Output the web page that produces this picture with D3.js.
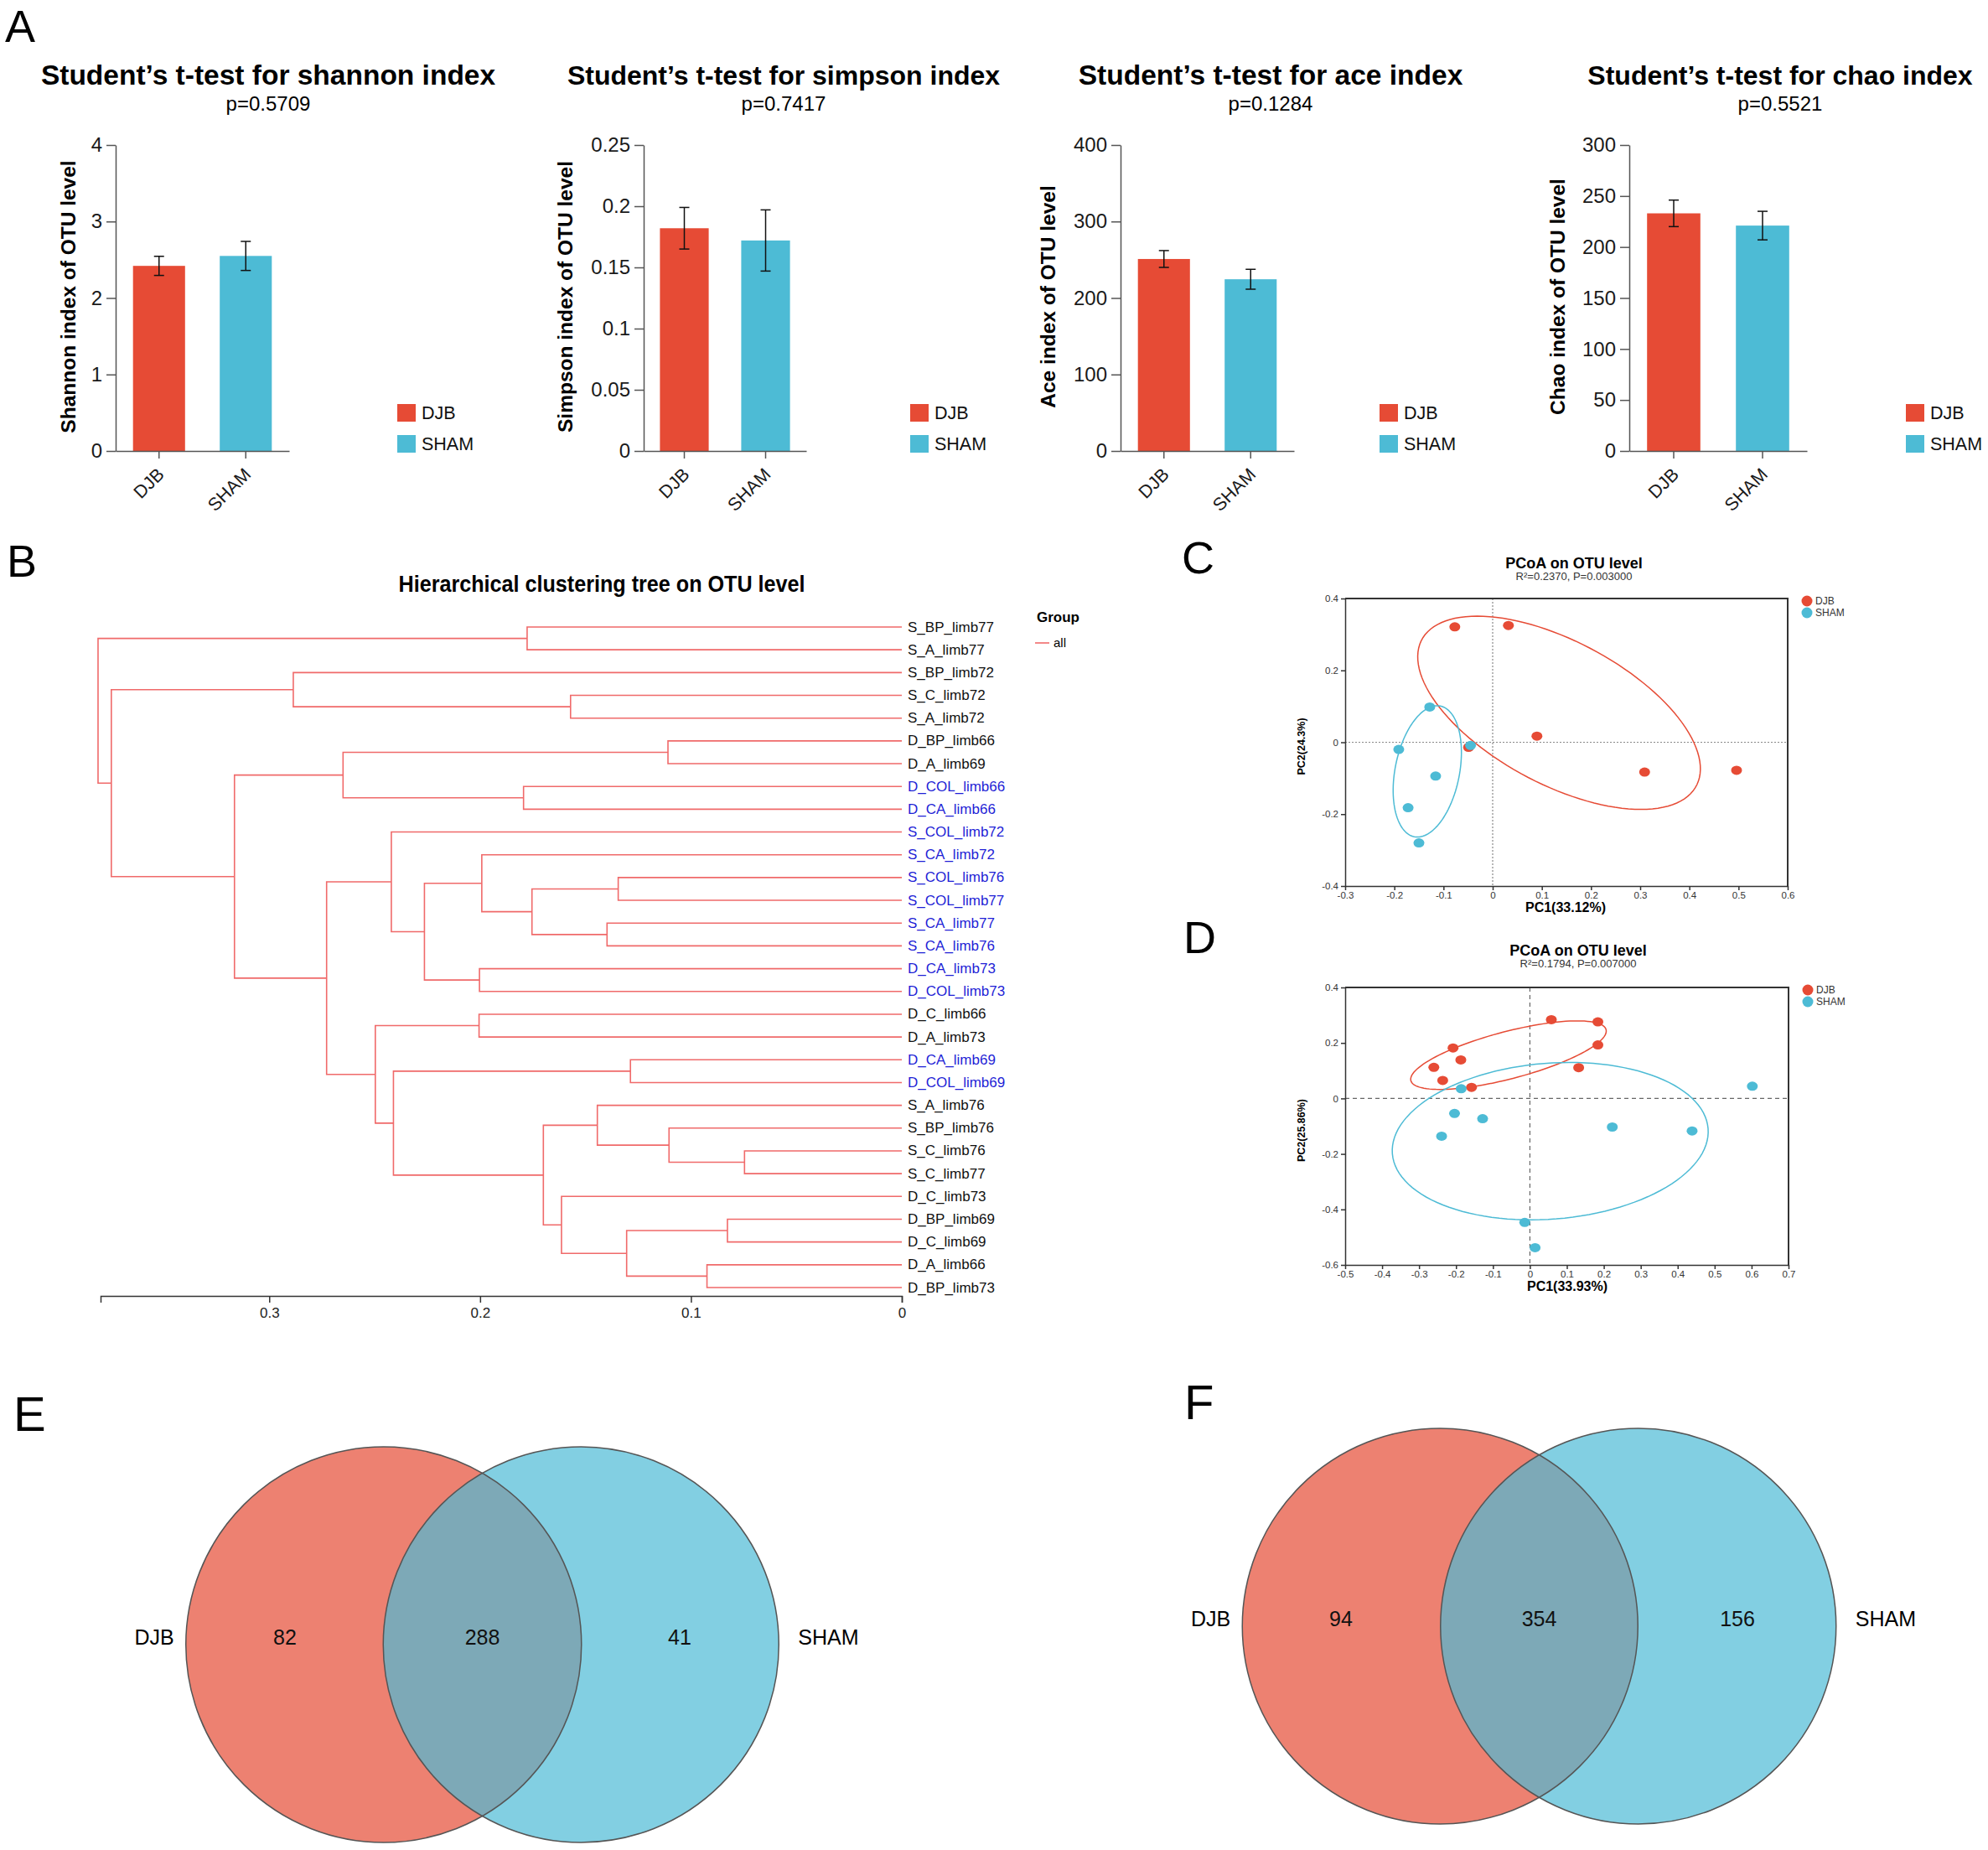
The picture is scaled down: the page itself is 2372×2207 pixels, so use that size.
<!DOCTYPE html>
<html>
<head>
<meta charset="utf-8">
<script src="https://cdn.jsdelivr.net/npm/d3@7"></script>
<style>
  body { margin: 0; background: #fff; }
  svg { display: block; }
  text { font-family: "Liberation Sans", Arial, Helvetica, sans-serif; }
</style>
</head>
<body>
<div id="fig"></div>
<script>
// ---- data ----

// A: alpha diversity t-tests
const groups = ["DJB", "SHAM"];
const indexNames = ["shannon", "simpson", "ace", "chao"];
const yTitles = ["Shannon index of OTU level", "Simpson index of OTU level", "Ace index of OTU level", "Chao index of OTU level"];
const pValues = ["0.5709", "0.7417", "0.1284", "0.5521"];
const indexMeans = [[2.42, 2.55], [0.182, 0.172], [251, 224.5], [233, 221]];
const indexSE = [[0.125, 0.19], [0.017, 0.025], [11, 13], [13, 14]];
const yMax = [4, 0.25, 400, 300];
const yStep = [1, 0.05, 100, 50];

// B: hierarchical clustering (hclust style: negative = leaf, positive = earlier merge)
const leafNames = [
  "S_BP_limb77", "S_A_limb77", "S_BP_limb72", "S_C_limb72", "S_A_limb72",
  "D_BP_limb66", "D_A_limb69", "D_COL_limb66", "D_CA_limb66", "S_COL_limb72",
  "S_CA_limb72", "S_COL_limb76", "S_COL_limb77", "S_CA_limb77", "S_CA_limb76",
  "D_CA_limb73", "D_COL_limb73", "D_C_limb66", "D_A_limb73", "D_CA_limb69",
  "D_COL_limb69", "S_A_limb76", "S_BP_limb76", "S_C_limb76", "S_C_limb77",
  "D_C_limb73", "D_BP_limb69", "D_C_limb69", "D_A_limb66", "D_BP_limb73"
];
const blueLeaves = [
  "D_COL_limb66", "D_CA_limb66", "S_COL_limb72", "S_CA_limb72", "S_COL_limb76", "S_COL_limb77",
  "S_CA_limb77", "S_CA_limb76", "D_CA_limb73", "D_COL_limb73", "D_CA_limb69", "D_COL_limb69"
];
const merges = [
  [-24, -25], [-27, -28], [-29, -30], [-23, 1], [-6, -7], [-20, -21], [2, 3], [-12, -13],
  [-14, -15], [-22, 4], [-4, -5], [-26, 7], [10, 12], [8, 9], [-1, -2], [-8, -9],
  [-11, 14], [-16, -17], [-18, -19], [17, 18], [6, 13], [-10, 20], [19, 21], [5, 16],
  [22, 23], [-3, 11], [24, 25], [26, 27], [15, 28]
];
const mergeHeights = [
  0.0746, 0.0827, 0.0924, 0.1104, 0.1109, 0.1287, 0.1305, 0.1345,
  0.1398, 0.1444, 0.1571, 0.1614, 0.170, 0.1754, 0.1777, 0.1794,
  0.1992, 0.2003, 0.2005, 0.2264, 0.2411, 0.2421, 0.2497, 0.265,
  0.2728, 0.2886, 0.3165, 0.3749, 0.3812
];
const treeTicks = [0.3, 0.2, 0.1, 0];

// C / D: PCoA scores [PC1, PC2]
const pcoaC_DJB = [[-0.077, 0.321], [0.032, 0.325], [0.090, 0.017], [0.309, -0.083], [0.496, -0.078], [-0.049, -0.014]];
const pcoaC_SHAM = [[-0.128, 0.098], [-0.191, -0.020], [-0.116, -0.094], [-0.172, -0.182], [-0.150, -0.280], [-0.045, -0.009]];
const pcoaD_DJB = [[0.058, 0.284], [0.184, 0.276], [0.184, 0.193], [-0.208, 0.182], [-0.187, 0.139], [-0.260, 0.112], [0.132, 0.111], [-0.236, 0.065], [-0.158, 0.040]];
const pcoaD_SHAM = [[-0.186, 0.035], [0.602, 0.044], [-0.204, -0.054], [-0.128, -0.073], [0.223, -0.103], [0.439, -0.117], [-0.239, -0.136], [-0.014, -0.447], [0.014, -0.538]];
// confidence ellipses: [centerX, centerY, semiMajor, semiMinor, angleDeg]
const ellipseC = [[0.135, 0.082, 0.35, 0.18, -41.7], [-0.133, -0.081, 0.184, 0.066, 82.8]];
const ellipseD = [[-0.058, 0.156, 0.28, 0.083, 20], [0.055, -0.154, 0.43, 0.28, 8]];

// E / F: Venn counts [DJB only, shared, SHAM only]
const vennE = [82, 288, 41];
const vennF = [94, 354, 156];

// ---- drawing ----
const W = 2372, H = 2207;
const red = "#E64B35", cyan = "#4DBBD5";
const groupColor = d3.scaleOrdinal().domain(groups).range([red, cyan]);

const svg = d3.select("#fig").append("svg").attr("width", W).attr("height", H);

function panelLetter(t, x, y, size) {
  svg.append("text").attr("x", x).attr("y", y).attr("font-size", size).text(t);
}
panelLetter("A", 6, 50, 54);
panelLetter("B", 8, 688, 54);
panelLetter("C", 1410, 684, 54);
panelLetter("D", 1412, 1137, 54);
panelLetter("E", 16, 1707, 58);
panelLetter("F", 1413, 1693, 58);

// Panel A
const barLayout = [
  { axisX: 138, axisEnd: 345, titleX: 320, titleSize: 33.5, legendX: 474, yTitleX: 81 },
  { axisX: 768, axisEnd: 962, titleX: 935, titleSize: 32, legendX: 1086, yTitleX: 674 },
  { axisX: 1337, axisEnd: 1544, titleX: 1516, titleSize: 33.5, legendX: 1646, yTitleX: 1250 },
  { axisX: 1944, axisEnd: 2156, titleX: 2124, titleSize: 32, legendX: 2274, yTitleX: 1858 }
];
const barTop = 173, barBottom = 538;

indexNames.forEach((name, i) => {
  const L = barLayout[i];
  const g = svg.append("g");
  const x = d3.scaleBand().domain(groups).range([L.axisX, L.axisEnd]).paddingInner(0.4).paddingOuter(0.2);
  const y = d3.scaleLinear().domain([0, yMax[i]]).range([barBottom, barTop]);

  g.append("text").attr("x", L.titleX).attr("y", 101).attr("text-anchor", "middle")
    .attr("font-size", L.titleSize).attr("font-weight", "bold").text(`Student\u2019s t-test for ${name} index`);
  g.append("text").attr("x", L.titleX).attr("y", 132).attr("text-anchor", "middle")
    .attr("font-size", 24).text("p=" + pValues[i]);

  const rows = groups.map((grp, j) => ({ grp, mean: indexMeans[i][j], se: indexSE[i][j] }));

  g.selectAll(".bar").data(rows).enter().append("rect")
    .attr("x", d => x(d.grp))
    .attr("width", x.bandwidth())
    .attr("y", d => y(d.mean))
    .attr("height", d => y(0) - y(d.mean))
    .attr("fill", d => groupColor(d.grp));

  const err = g.selectAll(".err").data(rows).enter().append("g")
    .attr("stroke", "#111").attr("stroke-width", 1.5);
  err.append("line")
    .attr("x1", d => x(d.grp) + x.bandwidth() / 2).attr("x2", d => x(d.grp) + x.bandwidth() / 2)
    .attr("y1", d => y(d.mean - d.se)).attr("y2", d => y(d.mean + d.se));
  err.append("line")
    .attr("x1", d => x(d.grp) + x.bandwidth() / 2 - 6).attr("x2", d => x(d.grp) + x.bandwidth() / 2 + 6)
    .attr("y1", d => y(d.mean + d.se)).attr("y2", d => y(d.mean + d.se));
  err.append("line")
    .attr("x1", d => x(d.grp) + x.bandwidth() / 2 - 6).attr("x2", d => x(d.grp) + x.bandwidth() / 2 + 6)
    .attr("y1", d => y(d.mean - d.se)).attr("y2", d => y(d.mean - d.se));

  const ticks = d3.range(0, yMax[i] + yStep[i] / 2, yStep[i]);
  const yAxis = g.append("g").attr("transform", `translate(${L.axisX},0)`)
    .call(d3.axisLeft(y).tickValues(ticks).tickSize(11).tickSizeOuter(0).tickPadding(5).tickFormat(d3.format("~g")));
  const xAxis = g.append("g").attr("transform", `translate(0,${barBottom})`)
    .call(d3.axisBottom(x).tickSize(9).tickSizeOuter(0));
  [yAxis, xAxis].forEach(a => {
    a.selectAll("path, line").attr("stroke", "#555").attr("stroke-width", 1.5);
    a.selectAll("text").attr("fill", "#1a1a1a").attr("font-size", 24)
      .attr("font-family", "Liberation Sans, Arial, sans-serif");
  });
  xAxis.selectAll("text")
    .attr("font-size", 21.5)
    .attr("text-anchor", "end")
    .attr("y", 0).attr("dy", "0.35em")
    .attr("transform", "translate(2,24) rotate(-45)");

  g.append("text")
    .attr("transform", `translate(${L.yTitleX},354) rotate(-90)`)
    .attr("text-anchor", "middle").attr("dominant-baseline", "central")
    .attr("font-size", 24.5).attr("font-weight", "bold").text(yTitles[i]);

  const leg = g.selectAll(".leg").data(groups).enter().append("g")
    .attr("transform", (d, j) => `translate(${L.legendX},${482 + j * 37})`);
  leg.append("rect").attr("width", 22).attr("height", 21).attr("fill", d => groupColor(d));
  leg.append("text").attr("x", 29).attr("y", 18).attr("font-size", 21.5).attr("fill", "#111").text(d => d);
});

// Panel B
const built = [];
merges.forEach((pair, k) => {
  const kids = pair.map(v => v < 0 ? { name: leafNames[-v - 1], height: 0 } : built[v - 1]);
  built.push({ name: "m" + (k + 1), height: mergeHeights[k], children: kids });
});
const treeRoot = d3.hierarchy(built[built.length - 1]);
const treeX = d3.scaleLinear().domain([0.38, 0]).range([120, 1076]);
const leafY = d3.scalePoint().domain(leafNames).range([748, 1536]);
treeRoot.eachAfter(n => {
  n.py = n.children ? (n.children[0].py + n.children[n.children.length - 1].py) / 2 : leafY(n.data.name);
});

svg.append("text").attr("x", 718).attr("y", 706).attr("text-anchor", "middle")
  .attr("font-size", 27).attr("font-weight", "bold")
  .attr("textLength", 485).attr("lengthAdjust", "spacingAndGlyphs")
  .text("Hierarchical clustering tree on OTU level");

svg.append("g").selectAll("path")
  .data(treeRoot.descendants().filter(n => n.children))
  .enter().append("path")
  .attr("fill", "none").attr("stroke", "#f06a6a").attr("stroke-width", 1.6)
  .attr("d", n => {
    const px = treeX(n.data.height);
    const a = n.children[0], b = n.children[1];
    return `M${treeX(a.data.height)},${a.py}H${px}V${b.py}H${treeX(b.data.height)}`;
  });

svg.append("g").selectAll("text")
  .data(treeRoot.leaves())
  .enter().append("text")
  .attr("x", 1083).attr("y", d => d.py).attr("dominant-baseline", "central")
  .attr("font-size", 17)
  .attr("fill", d => blueLeaves.includes(d.data.name) ? "#1f1fd6" : "#111")
  .text(d => d.data.name);

const treeAxis = svg.append("g").attr("transform", "translate(0,1546)")
  .call(d3.axisBottom(treeX).tickValues(treeTicks).tickSize(8).tickSizeOuter(8).tickPadding(6)
    .tickFormat(d => d === 0 ? "0" : d3.format(".1f")(d)));
treeAxis.selectAll("path, line").attr("stroke", "#333").attr("stroke-width", 1.5);
treeAxis.selectAll("text").attr("font-size", 17).attr("fill", "#222")
  .attr("font-family", "Liberation Sans, Arial, sans-serif");

svg.append("text").attr("x", 1237).attr("y", 742).attr("font-size", 17).attr("font-weight", "bold").text("Group");
svg.append("line").attr("x1", 1235).attr("x2", 1252).attr("y1", 767).attr("y2", 767)
  .attr("stroke", "#f06a6a").attr("stroke-width", 1.6);
svg.append("text").attr("x", 1257).attr("y", 772).attr("font-size", 15)
  .attr("font-family", "Liberation Serif, Times New Roman, serif").text("all");

// Panels C / D
function pcoaPanel(cfg) {
  const g = svg.append("g");
  const x = d3.scaleLinear().domain(cfg.xDomain).range([cfg.x0, cfg.x1]);
  const y = d3.scaleLinear().domain(cfg.yDomain).range([cfg.y1, cfg.y0]);

  g.append("text").attr("x", cfg.titleX).attr("y", cfg.titleY).attr("text-anchor", "middle")
    .attr("font-size", 18).attr("font-weight", "bold").text("PCoA on OTU level");
  g.append("text").attr("x", cfg.titleX).attr("y", cfg.titleY + 14).attr("text-anchor", "middle")
    .attr("font-size", 13).attr("fill", "#333").text(cfg.subtitle);

  g.append("line").attr("x1", x(0)).attr("x2", x(0)).attr("y1", cfg.y0).attr("y2", cfg.y1)
    .attr("stroke", cfg.dashColor).attr("stroke-dasharray", cfg.dash).attr("stroke-width", 1.2);
  g.append("line").attr("x1", cfg.x0).attr("x2", cfg.x1).attr("y1", y(0)).attr("y2", y(0))
    .attr("stroke", cfg.dashColor).attr("stroke-dasharray", cfg.dash).attr("stroke-width", 1.2);

  const fmt = d => String(+d.toFixed(1));
  const xa = g.append("g").attr("transform", `translate(0,${cfg.y1})`)
    .call(d3.axisBottom(x).tickValues(cfg.xTicks).tickSize(5).tickSizeOuter(0).tickPadding(2).tickFormat(fmt));
  const ya = g.append("g").attr("transform", `translate(${cfg.x0},0)`)
    .call(d3.axisLeft(y).tickValues(cfg.yTicks).tickSize(5).tickSizeOuter(0).tickPadding(3).tickFormat(fmt));
  [xa, ya].forEach(a => {
    a.selectAll("path, line").attr("stroke", "#333").attr("stroke-width", 1.5);
    a.selectAll("text").attr("font-size", 11.5).attr("fill", "#333")
      .attr("font-family", "Liberation Sans, Arial, sans-serif");
  });
  g.append("path").attr("fill", "none").attr("stroke", "#333").attr("stroke-width", 2)
    .attr("d", `M${cfg.x0},${cfg.y0}H${cfg.x1}V${cfg.y1}`);

  const angles = d3.range(0, 361, 3).map(t => t * Math.PI / 180);
  const line = d3.line().x(p => x(p[0])).y(p => y(p[1]));
  cfg.ellipses.forEach((e, k) => {
    const [cx, cy, a, b, deg] = e;
    const th = deg * Math.PI / 180;
    const pts = angles.map(t => [
      cx + a * Math.cos(t) * Math.cos(th) - b * Math.sin(t) * Math.sin(th),
      cy + a * Math.cos(t) * Math.sin(th) + b * Math.sin(t) * Math.cos(th)
    ]);
    g.append("path").attr("d", line(pts)).attr("fill", "none")
      .attr("stroke", groupColor(groups[k])).attr("stroke-width", 1.5);
  });

  [cfg.djb, cfg.sham].forEach((pts, k) => {
    g.selectAll(null).data(pts).enter().append("ellipse")
      .attr("cx", p => x(p[0])).attr("cy", p => y(p[1]))
      .attr("rx", 6.5).attr("ry", 5.5)
      .attr("fill", groupColor(groups[k]));
  });

  g.append("text").attr("x", cfg.xLabelX).attr("y", cfg.y1 + 31).attr("text-anchor", "middle")
    .attr("font-size", 16).attr("font-weight", "bold").text(cfg.xLabel);
  g.append("text").attr("transform", `translate(1553,${(cfg.y0 + cfg.y1) / 2 + 5}) rotate(-90)`)
    .attr("text-anchor", "middle").attr("dominant-baseline", "central")
    .attr("font-size", 12.5).attr("font-weight", "bold").text(cfg.yLabel);

  const leg = g.selectAll(".leg").data(groups).enter().append("g")
    .attr("transform", (d, j) => `translate(${cfg.legendX},${cfg.legendY + j * 14})`);
  leg.append("circle").attr("r", 6.5).attr("fill", d => groupColor(d));
  leg.append("text").attr("x", 10).attr("dominant-baseline", "central")
    .attr("font-size", 12).attr("fill", "#333").text(d => d);
}

pcoaPanel({
  xDomain: [-0.3, 0.6], yDomain: [-0.4, 0.4],
  xTicks: d3.range(-3, 7).map(v => v / 10), yTicks: d3.range(-2, 3).map(v => v / 5),
  x0: 1605, x1: 2133, y0: 714, y1: 1057,
  titleX: 1878, titleY: 678, subtitle: "R\u00b2=0.2370, P=0.003000",
  xLabel: "PC1(33.12%)", xLabelX: 1868, yLabel: "PC2(24.3%)",
  legendX: 2156, legendY: 717,
  dash: "2,2", dashColor: "#888",
  djb: pcoaC_DJB, sham: pcoaC_SHAM, ellipses: ellipseC
});
pcoaPanel({
  xDomain: [-0.5, 0.7], yDomain: [-0.6, 0.4],
  xTicks: d3.range(-5, 8).map(v => v / 10), yTicks: d3.range(-3, 3).map(v => v / 5),
  x0: 1605, x1: 2134, y0: 1178, y1: 1509,
  titleX: 1883, titleY: 1140, subtitle: "R\u00b2=0.1794, P=0.007000",
  xLabel: "PC1(33.93%)", xLabelX: 1870, yLabel: "PC2(25.86%)",
  legendX: 2157, legendY: 1181,
  dash: "5,4", dashColor: "#666",
  djb: pcoaD_DJB, sham: pcoaD_SHAM, ellipses: ellipseD
});

// Panels E / F
function venn(counts, x0, x1, cy, labelY) {
  const g = svg.append("g");
  const pos = d3.scalePoint().domain(["left", "both", "right"]).range([x0, x1]);
  const r = 236;
  const centers = [(pos("left") + pos("both")) / 2, (pos("both") + pos("right")) / 2];
  centers.forEach((c, k) => {
    g.append("circle").attr("cx", c).attr("cy", cy).attr("r", r)
      .attr("fill", groupColor(groups[k])).attr("fill-opacity", 0.7);
  });
  centers.forEach(c => {
    g.append("circle").attr("cx", c).attr("cy", cy).attr("r", r)
      .attr("fill", "none").attr("stroke", "#555").attr("stroke-width", 1.5);
  });
  g.selectAll(".num").data(counts).enter().append("text")
    .attr("x", (d, k) => pos(pos.domain()[k])).attr("y", labelY)
    .attr("text-anchor", "middle").attr("dominant-baseline", "central")
    .attr("font-size", 25).attr("fill", "#111").text(d => d);
  g.append("text").attr("x", centers[0] - r - 14).attr("y", labelY)
    .attr("text-anchor", "end").attr("dominant-baseline", "central").attr("font-size", 25).text(groups[0]);
  g.append("text").attr("x", centers[1] + r + 23).attr("y", labelY)
    .attr("dominant-baseline", "central").attr("font-size", 25).text(groups[1]);
}
venn(vennE, 340, 811, 1962, 1953);
venn(vennF, 1600, 2073, 1940, 1931);
</script>
</body>
</html>
